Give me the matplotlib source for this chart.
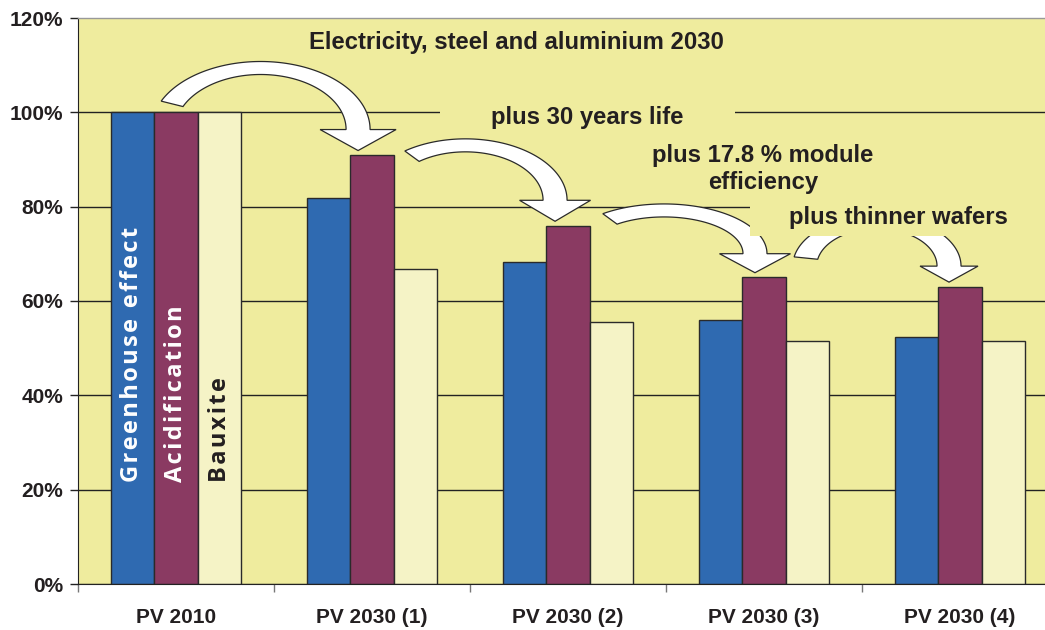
import matplotlib.pyplot as plt
from matplotlib.patches import Polygon, Rectangle
import numpy as np

# Chart data (relative to PV 2010 = 100 %)
categories = ['PV 2010', 'PV 2030 (1)', 'PV 2030 (2)', 'PV 2030 (3)', 'PV 2030 (4)']
greenhouse = [100, 81.9, 68.3, 56.0, 52.4]
acidification = [100, 90.9, 75.9, 65.0, 63.0]
bauxite = [100, 66.7, 55.5, 51.5, 51.5]
series_names = ['Greenhouse effect', 'Acidification', 'Bauxite']

# Step annotations between scenarios
step_labels = ['Electricity, steel and aluminium 2030', 'plus 30 years life',
               'plus 17.8 % module\nefficiency', 'plus thinner wafers']
step_label_pos = [(1.735, 114.7), (2.097, 99.0), (2.995, 88.0), (3.684, 77.8)]
arrow_tails = [(-0.02, 101.8), (1.204, 90.7), (2.214, 77.4), (3.214, 69.1)]
arrow_tip_x = [0.929, 1.934, 2.954, 3.944]
arrow_apex = [109.4, 93.0, 79.2, 76.7]
arrow_head_w = [76, 71, 71, 58]
arrow_head_len = [21, 21, 19, 16]

# Colours
bg = '#EFEC9E'
col_blue = '#2F6AB1'
col_purple = '#8A3A62'
col_cream = '#F5F3C6'
txt = '#231F20'

plt.rcParams['font.family'] = ['Liberation Sans', 'DejaVu Sans']


def curved_arrow(ax, tail, tip, apex_y, head_len, head_w, t_side=24, t_top=13):
    """White block arrow on an elliptical band (thicker at the ends), pointing down."""
    T = ax.transData
    x0, y0 = T.transform(tail)
    xt, yt = T.transform(tip)
    ya = T.transform((0, apex_y))[1]
    cy = yt + head_len
    b = ya - cy
    phi0 = np.pi - np.arcsin(np.clip((y0 - cy) / b, -1, 1))
    a = (xt - x0) / (1 - np.cos(phi0))
    cx = xt - a
    phi = np.linspace(phi0, 0, 100)
    outer = np.c_[cx + (a + t_side / 2) * np.cos(phi), cy + (b + t_top / 2) * np.sin(phi)]
    inner = np.c_[cx + (a - t_side / 2) * np.cos(phi), cy + (b - t_top / 2) * np.sin(phi)]
    head = np.array([(xt + head_w / 2, cy), (xt, yt), (xt - head_w / 2, cy)])
    poly = np.vstack([outer, head, inner[::-1]])
    ax.add_patch(Polygon(T.inverted().transform(poly), closed=True, facecolor='white',
                         edgecolor='#2a2a2a', linewidth=0.9, zorder=3, clip_on=False))


fig = plt.figure(figsize=(10.45, 6.3), dpi=100)
ax = fig.add_axes([78 / 1045, 1 - 584 / 630, 980 / 1045, 566 / 630])
ax.set_facecolor(bg)
ax.set_xlim(-0.5, 4.5)
ax.set_ylim(0, 120)

x = np.arange(len(categories))
w = 0.222
offsets = [-w, 0, w]
colors = [col_blue, col_purple, col_cream]
for vals, off, c in zip([greenhouse, acidification, bauxite], offsets, colors):
    ax.bar(x + off, vals, width=w, color=c, edgecolor='#2a2a2a', linewidth=1.0, zorder=2)

# series names written inside the PV 2010 bars (hair spaces for the wide tracking)
label_cols = ['white', 'white', txt]
for name, off, c in zip(series_names, offsets, label_cols):
    ax.text(0 + off, 21.6, '\u200a'.join(name), rotation=90, ha='center', va='bottom', color=c,
            fontsize=17, fontweight='bold', family=['Open Sans', 'DejaVu Sans'], zorder=6)

# gridlines
ax.set_yticks(np.arange(0, 121, 20))
ax.set_yticklabels([f'{v}%' for v in range(0, 121, 20)])
ax.set_axisbelow(True)
ax.yaxis.grid(True, color='#222222', linewidth=1.0)
ax.yaxis.get_gridlines()[-1].set_visible(False)

# curved white arrows from one scenario to the next
for i, tail in enumerate(arrow_tails):
    curved_arrow(ax, tail, (arrow_tip_x[i], acidification[i + 1] + 1.0), arrow_apex[i],
                 arrow_head_len[i], arrow_head_w[i])

# label backgrounds that hide the gridlines / arrows behind them
masks = [(1.347, 94.8, 1.505, 8.2), (2.929, 73.8, 1.6, 9.7)]
for mx, my, mw, mh in masks:
    ax.add_patch(Rectangle((mx, my), mw, mh, facecolor=bg, edgecolor='none', zorder=4))

for lab, (lx, ly) in zip(step_labels, step_label_pos):
    ax.text(lx, ly, lab, ha='center', va='center', fontsize=17.2, fontweight='bold',
            color=txt, linespacing=1.2, zorder=5)

# axes styling
ax.set_xticks(x)
ax.set_xticklabels(categories)
ax.set_xticks(np.arange(-0.5, 5, 1), minor=True)
ax.tick_params(axis='x', which='major', length=0, pad=17, labelsize=15, labelcolor=txt)
ax.tick_params(axis='x', which='minor', length=6, color='#777777', width=1)
ax.tick_params(axis='y', length=6, width=1, color='#222222', pad=4.5, labelsize=15, labelcolor=txt)
for t in ax.get_xticklabels() + ax.get_yticklabels():
    t.set_fontweight('bold')

ax.spines['left'].set_color('#222222')
ax.spines['bottom'].set_color('#222222')
ax.spines['top'].set_color('#999999')
ax.spines['top'].set_linewidth(1.0)
ax.spines['right'].set_visible(False)

fig.savefig('out.png', dpi=100)
